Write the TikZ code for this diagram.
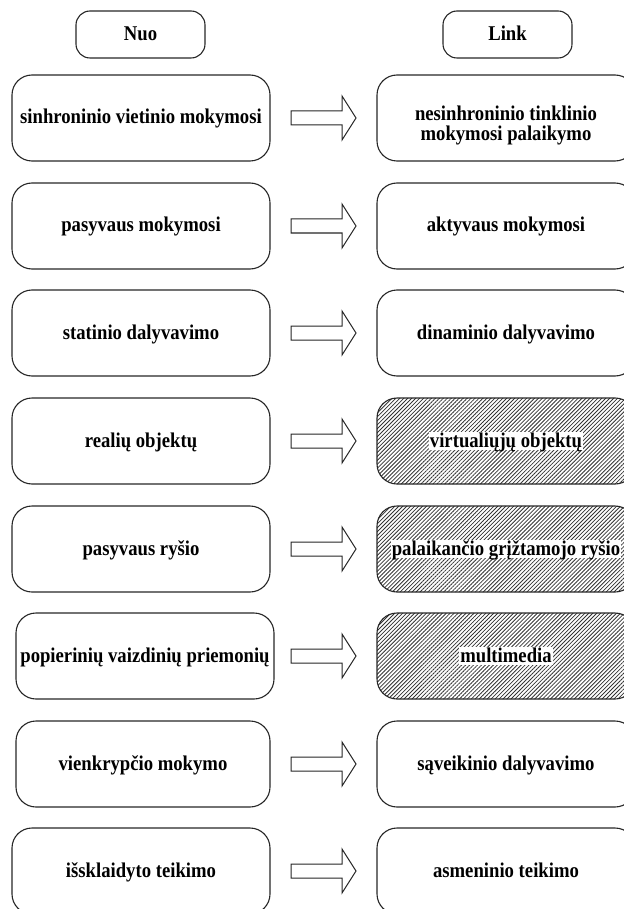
\documentclass[tikz,border=0pt]{standalone}
\usepackage{fontspec}
\setmainfont{Liberation Serif}[FakeStretch=0.89]
\usetikzlibrary{patterns.meta}
\begin{document}
\begin{tikzpicture}[x=1pt,y=-1pt,
  txt/.style={font=\fontsize{21}{20}\selectfont\bfseries},
  line/.style={text height=14pt,text depth=2pt},
  box/.style={txt,draw=black!85,line width=1.1pt,rounded corners=20pt,
    minimum width=258pt,minimum height=86pt,inner sep=0pt,align=center},
  onebox/.style={box,line},
  twobox/.style={box,text height=45pt,text depth=0pt},
  headbox/.style={onebox,rounded corners=14pt,minimum width=129pt,minimum height=47pt},
  hatched/.style={pattern={Lines[angle=45,distance=2.8pt,line width=0.8pt]},
    pattern color=black!80},
  tag/.style={txt,line,fill=white,inner ysep=1pt,inner xsep=1pt},
  blockarrow/.style={draw=black!85,line width=1pt,fill=white,line join=miter}]
\useasboundingbox (0,0) rectangle (623,909);

% column headings
\node[headbox] (nuo)  at (140.5,34.5) {Nuo};
\node[headbox] (link) at (507.5,34.5) {Link};

% left column: "from"
\node[onebox] (L1) at (141,118) {sinhroninio vietinio mokymosi};
\node[onebox] (L2) at (141,226) {pasyvaus mokymosi};
\node[onebox] (L3) at (141,333) {statinio dalyvavimo};
\node[onebox] (L4) at (141,441) {realių objektų};
\node[onebox] (L5) at (141,549) {pasyvaus ryšio};
\node[onebox] (L6) at (145,656) {popierinių vaizdinių priemonių};
\node[onebox,minimum width=254pt] (L7) at (143,764) {vienkrypčio mokymo};
\node[onebox] (L8) at (141,871) {išsklaidyto teikimo};

% right column: "to"
\node[twobox] (R1) at (506,118) {nesinhroninio tinklinio\\mokymosi palaikymo};
\node[onebox] (R2) at (506,226) {aktyvaus mokymosi};
\node[onebox] (R3) at (506,333) {dinaminio dalyvavimo};
\node[box,hatched] (R4) at (506,441) {};
\node[tag] (R4t) at (R4) {virtualiųjų objektų};
\node[box,hatched] (R5) at (506,549) {};
\node[tag] (R5t) at (R5) {palaikančio grįžtamojo ryšio};
\node[box,hatched] (R6) at (506,656) {};
\node[tag] (R6t) at (R6) {multimedia};
\node[onebox] (R7) at (506,764) {sąveikinio dalyvavimo};
\node[onebox] (R8) at (506,871) {asmeninio teikimo};

% block arrows between the columns, all starting on one vertical line
\coordinate (ax) at (291,0);
\foreach \r in {1,...,8}{
  \draw[blockarrow] (ax |- L\r) ++(0,-7) -- ++(51,0) -- ++(0,-15) -- ++(14,22)
    -- ++(-14,22) -- ++(0,-15) -- ++(-51,0) -- cycle;
}
\end{tikzpicture}
\end{document}
